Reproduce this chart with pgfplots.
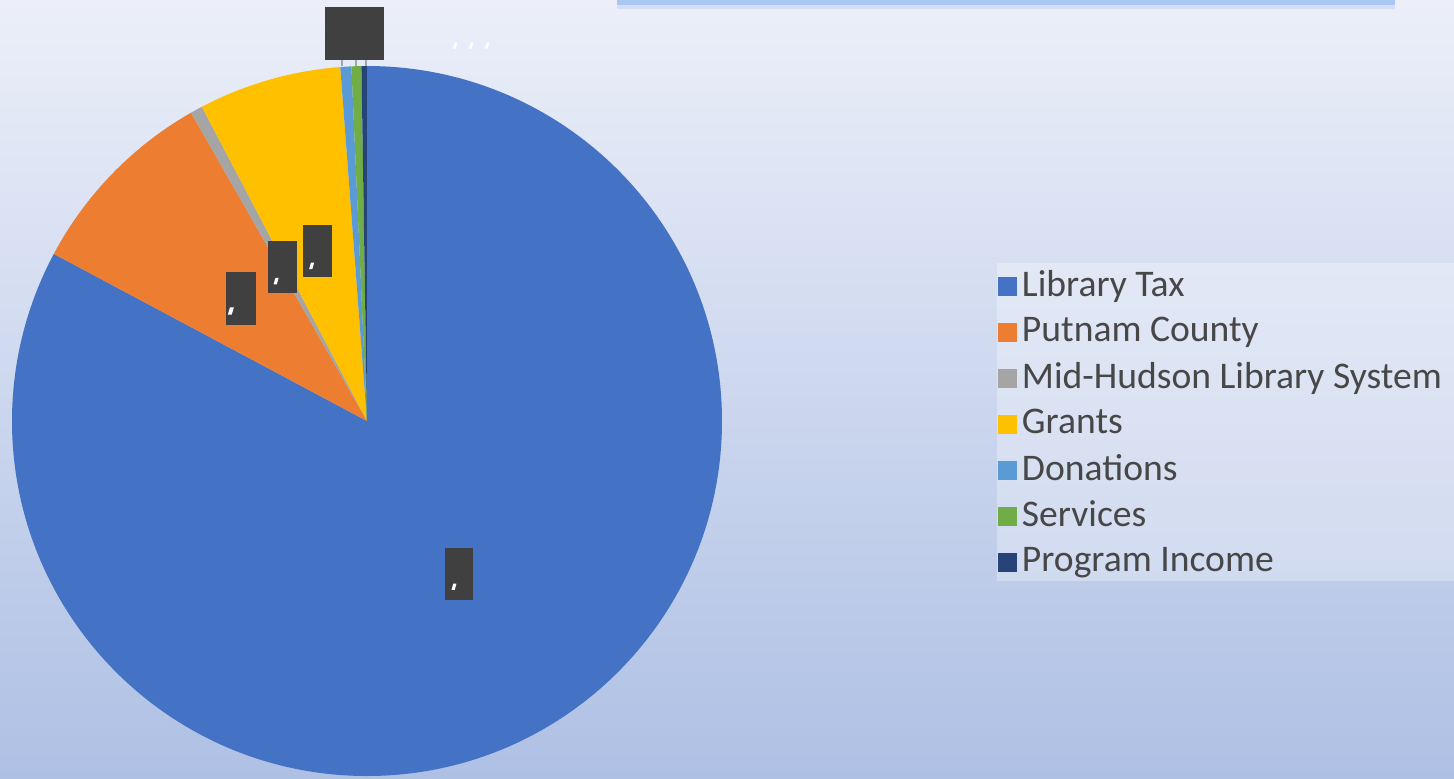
\documentclass[border=0pt]{standalone}
\usepackage{pgfplots}
\pgfplotsset{compat=1.18}
\usepackage{fontspec}
\setmainfont{Carlito}
\definecolor{cTax}{HTML}{4472C4}
\definecolor{cPut}{HTML}{ED7D31}
\definecolor{cMid}{HTML}{A5A5A5}
\definecolor{cGra}{HTML}{FFC000}
\definecolor{cDon}{HTML}{5B9BD5}
\definecolor{cSer}{HTML}{70AD47}
\definecolor{cPro}{HTML}{264478}
\definecolor{bgTop}{HTML}{ECEFF9}
\definecolor{bgBot}{HTML}{AEC0E4}
\definecolor{legtext}{HTML}{474747}
\definecolor{lab}{HTML}{404040}
\definecolor{barA}{HTML}{D3DDF3}
\definecolor{barB}{HTML}{A9C6F5}
% start (percent, cumulative), value (percent), colour
\newcommand{\pieslice}[3]{%
  \fill[#3] (axis cs:0,0) -- (axis cs:{sin(3.6*(#1))},{cos(3.6*(#1))})
    arc[start angle={90-3.6*(#1)}, end angle={90-3.6*((#1)+(#2))}, radius=3.55cm] -- cycle;}
\begin{document}
\begin{tikzpicture}
\useasboundingbox (0,0) rectangle (14.54,7.78);
\shade[top color=bgTop, bottom color=bgBot] (0,0) rectangle (14.54,7.78);
% clipped title frame at top
\fill[barA] (6.17,7.69) rectangle (13.95,7.73);
\fill[barB] (6.17,7.73) rectangle (13.95,7.78);
% legend box
\fill[white, opacity=0.3] (9.97,1.97) rectangle (14.54,5.15);
\begin{axis}[
  at={(3.67cm,3.57cm)}, anchor=origin,
  x=3.55cm, y=3.55cm,
  xmin=-1, xmax=1, ymin=-1, ymax=1,
  hide axis, clip=false,
  legend image code/.code={\fill[#1, draw=none] (0cm,-0.095cm) rectangle (0.19cm,0.095cm);},
  legend cell align=left,
  legend style={at={(axis description cs:1.3887,0.7225)}, anchor=north west,
    draw=none, fill=none, inner sep=0pt, outer sep=0pt, row sep=0pt,
    font=\fontsize{10.7}{12}\selectfont, text=legtext,
    nodes={inner sep=0pt, minimum height=0.46cm},
    /tikz/every odd column/.append style={column sep=0.05cm}},
]
\pieslice{0}{82.8}{cTax}
\pieslice{82.8}{8.95}{cPut}
\pieslice{91.75}{0.55}{cMid}
\pieslice{92.3}{6.5}{cGra}
\pieslice{98.8}{0.5}{cDon}
\pieslice{99.3}{0.45}{cSer}
\pieslice{99.75}{0.25}{cPro}
% leader lines
\draw[cMid, line width=0.6pt] (axis cs:-0.070,1.017) -- (axis cs:-0.070,1.0);
\draw[cMid, line width=0.6pt] (axis cs:-0.031,1.017) -- (axis cs:-0.031,1.0);
\draw[cMid, line width=0.6pt] (axis cs:-0.003,1.017) -- (axis cs:-0.003,1.0);
% data label boxes (unreadable in the reference)
\node[fill=lab, minimum width=0.59cm, minimum height=0.53cm, inner sep=0pt] at (axis cs:-0.035,1.092) {};
\node[fill=lab, minimum width=0.30cm, minimum height=0.53cm, inner sep=0pt] at (axis cs:-0.355,0.345) {};
\node[fill=lab, minimum width=0.29cm, minimum height=0.52cm, inner sep=0pt] at (axis cs:-0.238,0.434) {};
\node[fill=lab, minimum width=0.29cm, minimum height=0.52cm, inner sep=0pt] at (axis cs:-0.139,0.479) {};
\node[fill=lab, minimum width=0.28cm, minimum height=0.52cm, inner sep=0pt] at (axis cs:0.259,-0.431) {};
% small white marks inside the label boxes
\fill[white] (axis cs:-0.392,0.300) -- (axis cs:-0.381,0.300) -- (axis cs:-0.375,0.320) -- (axis cs:-0.386,0.320) -- cycle;
\fill[white] (axis cs:-0.263,0.385) -- (axis cs:-0.254,0.385) -- (axis cs:-0.249,0.403) -- (axis cs:-0.258,0.403) -- cycle;
\fill[white] (axis cs:-0.163,0.428) -- (axis cs:-0.154,0.428) -- (axis cs:-0.149,0.446) -- (axis cs:-0.158,0.446) -- cycle;
\fill[white] (axis cs:0.238,-0.476) -- (axis cs:0.247,-0.476) -- (axis cs:0.252,-0.458) -- (axis cs:0.243,-0.458) -- cycle;
\fill[white] (axis cs:0.242,1.049) -- (axis cs:0.250,1.049) -- (axis cs:0.255,1.066) -- (axis cs:0.247,1.066) -- cycle;
\fill[white] (axis cs:0.287,1.049) -- (axis cs:0.295,1.049) -- (axis cs:0.300,1.066) -- (axis cs:0.292,1.066) -- cycle;
\fill[white] (axis cs:0.332,1.049) -- (axis cs:0.340,1.049) -- (axis cs:0.345,1.066) -- (axis cs:0.337,1.066) -- cycle;
\addlegendimage{fill=cTax}\addlegendentry{Library Tax}
\addlegendimage{fill=cPut}\addlegendentry{Putnam County}
\addlegendimage{fill=cMid}\addlegendentry{Mid-Hudson Library System}
\addlegendimage{fill=cGra}\addlegendentry{Grants}
\addlegendimage{fill=cDon}\addlegendentry{Donations}
\addlegendimage{fill=cSer}\addlegendentry{Services}
\addlegendimage{fill=cPro}\addlegendentry{Program Income}
\end{axis}
\end{tikzpicture}
\end{document}
